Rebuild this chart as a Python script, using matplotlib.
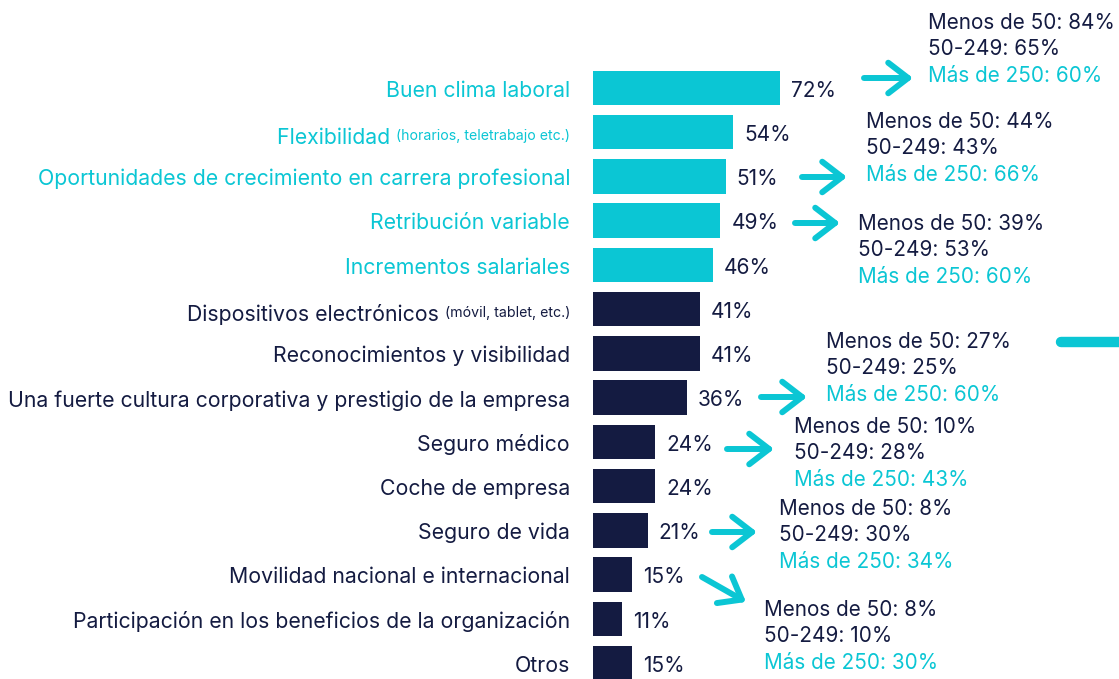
import matplotlib.pyplot as plt
import matplotlib.transforms as mtransforms

plt.rcParams['font.family'] = ['Inter', 'DejaVu Sans']

CYAN = '#0BC6D4'
NAVY = '#141B41'

categorias = ['Buen clima laboral', 'Flexibilidad', 'Oportunidades de crecimiento en carrera profesional',
              'Retribución variable', 'Incrementos salariales', 'Dispositivos electrónicos',
              'Reconocimientos y visibilidad', 'Una fuerte cultura corporativa y prestigio de la empresa',
              'Seguro médico', 'Coche de empresa', 'Seguro de vida', 'Movilidad nacional e internacional',
              'Participación en los beneficios de la organización', 'Otros']
detalles = ['', '(horarios, teletrabajo etc.)', '', '', '', '(móvil, tablet, etc.)',
            '', '', '', '', '', '', '', '']
valores = [72, 54, 51, 49, 46, 41, 41, 36, 24, 24, 21, 15, 11, 15]
n_destacados = 5

# desglose por tamaño de empresa
desglose_idx = [0, 2, 3, 7, 8, 10, 11]
menos_50 = [84, 44, 39, 27, 10, 8, 8]
de_50_249 = [65, 43, 53, 25, 28, 30, 10]
mas_250 = [60, 66, 60, 60, 43, 34, 30]

# posiciones (pixeles) de flechas y bloques de texto
flechas = [((864, 78), (913, 78), (928, 23)),
           ((802, 177), (847, 177), (866, 122)),
           ((795, 223), (840, 223), (858, 224)),
           ((761, 397), (807, 397), (826, 342)),
           ((727, 449), (774, 449), (794, 427)),
           ((712, 532), (757, 532), (779, 509)),
           ((702, 577), (746, 602), (764, 610))]

W, H = 1119, 679
fig = plt.figure(figsize=(W / 100, H / 100), dpi=100)
ax = fig.add_axes([0, 0, 1, 1])
ax.axis('off')

x0, sx = 593, 2.6
y0, sy = 88, 44.23
ax.set_xlim(-x0 / sx, (W - x0) / sx)
ax.set_ylim((H - y0) / sy, -y0 / sy)

px = mtransforms.Affine2D().scale(1 / W, -1 / H).translate(0, 1) + fig.transFigure

colores = [CYAN if i < n_destacados else NAVY for i in range(len(valores))]
ys = list(range(len(valores)))
ax.barh(ys, valores, height=0.78, color=colores)

lab_x = (570 - x0) / sx
for i, (cat, det, v) in enumerate(zip(categorias, detalles, valores)):
    c = colores[i]
    if det:
        t = ax.annotate(det, xy=(lab_x, i), xytext=(0, -3), textcoords='offset points',
                        ha='right', va='center', fontsize=10.2, color=c)
        ax.annotate(cat + ' ', xy=(0, 0.4), xycoords=t, ha='right', va='center',
                    fontsize=15.3, color=c)
    else:
        ax.annotate(cat, xy=(lab_x, i), xytext=(0, -2), textcoords='offset points',
                    ha='right', va='center', fontsize=15.3, color=c)
    ax.annotate(f'{v}%', xy=(v, i), xytext=(8, -2), textcoords='offset points',
                ha='left', va='center', fontsize=15, color=NAVY)

for k, (a, b, t) in enumerate(flechas):
    ax.annotate('', xy=b, xytext=a, xycoords=px, textcoords=px,
                arrowprops=dict(arrowstyle='->,head_length=0.65,head_width=0.5', color=CYAN,
                                lw=4.3, shrinkA=0, shrinkB=0, capstyle='round',
                                joinstyle='round', mutation_scale=22))
    lineas = [(f'Menos de 50: {menos_50[k]}%', NAVY),
              (f'50-249: {de_50_249[k]}%', NAVY),
              (f'Más de 250: {mas_250[k]}%', CYAN)]
    for j, (s, c) in enumerate(lineas):
        fig.text(t[0], t[1] + j * 26.3, s, transform=px, ha='left', va='center',
                 fontsize=14.9, color=c)

# trazo suelto a la derecha
fig.lines.append(plt.Line2D([1061, 1125], [342, 342], transform=px, color=CYAN,
                            lw=7.5, solid_capstyle='round'))

fig.savefig('out.png', dpi=100)
